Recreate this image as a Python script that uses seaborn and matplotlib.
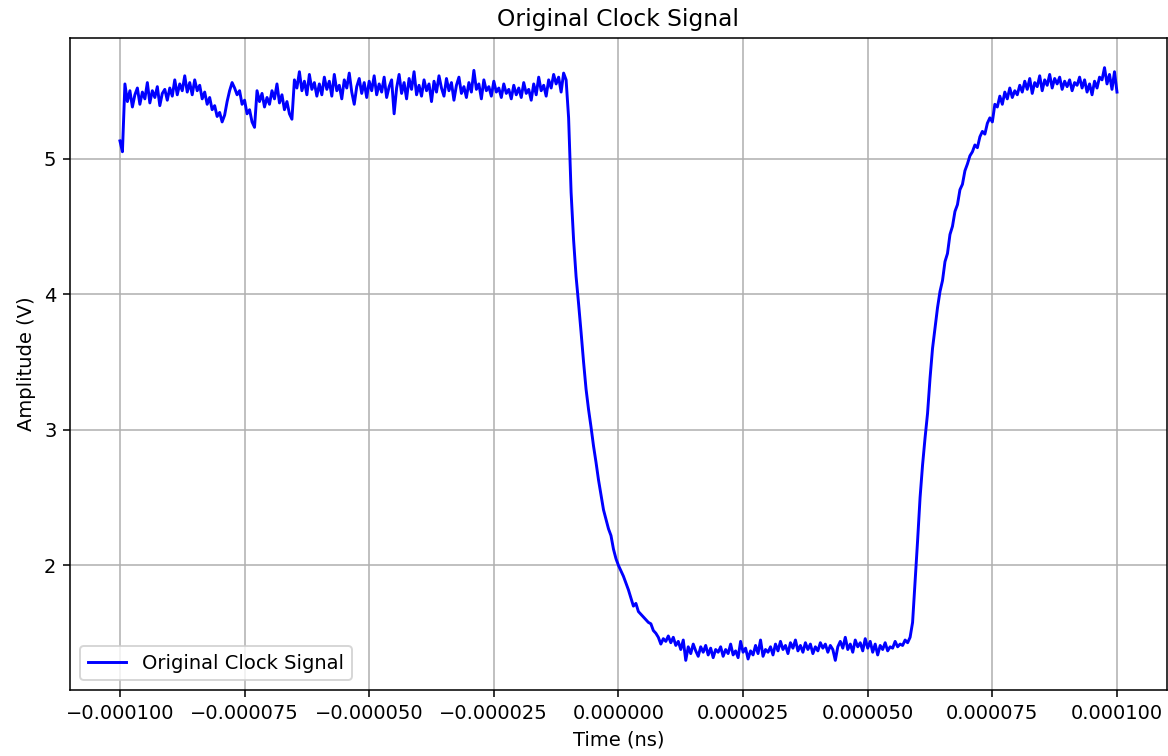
import numpy as np
import pandas as pd
import matplotlib
matplotlib.use("Agg")
import matplotlib.pyplot as plt
import seaborn as sns

# Sampling grid: -100 us .. +100 us, 0.5 us step (401 samples)
t_start = -1e-4
t_end = 1e-4
n_samples = 401

amplitude = [
    # -100 .. -90.5
    5.13, 5.05, 5.55, 5.42, 5.50, 5.38, 5.47, 5.52, 5.40, 5.49, 5.44, 5.56, 5.41, 5.50, 5.45, 5.53, 5.39, 5.48, 5.51, 5.43,
    # -90 .. -80.5
    5.52, 5.46, 5.58, 5.47, 5.55, 5.50, 5.61, 5.49, 5.56, 5.47, 5.58, 5.50, 5.54, 5.44, 5.49, 5.40, 5.45, 5.36, 5.39, 5.31,
    # -80 .. -70.5
    5.34, 5.27, 5.32, 5.42, 5.50, 5.56, 5.52, 5.47, 5.50, 5.40, 5.43, 5.33, 5.36, 5.27, 5.23, 5.50, 5.42, 5.48, 5.38, 5.45,
    # -70 .. -60.5
    5.40, 5.50, 5.44, 5.55, 5.41, 5.47, 5.36, 5.42, 5.33, 5.29, 5.58, 5.52, 5.64, 5.50, 5.57, 5.47, 5.62, 5.51, 5.56, 5.46,
    # -60 .. -50.5
    5.55, 5.47, 5.60, 5.51, 5.57, 5.46, 5.62, 5.50, 5.54, 5.44, 5.58, 5.52, 5.63, 5.49, 5.40, 5.53, 5.59, 5.48, 5.56, 5.45,
    # -50 .. -40.5
    5.57, 5.50, 5.61, 5.47, 5.55, 5.49, 5.60, 5.45, 5.53, 5.58, 5.33, 5.52, 5.62, 5.48, 5.56, 5.44, 5.59, 5.51, 5.64, 5.47,
    # -40 .. -30.5
    5.54, 5.46, 5.58, 5.50, 5.55, 5.42, 5.57, 5.49, 5.61, 5.52, 5.46, 5.59, 5.50, 5.56, 5.43, 5.54, 5.60, 5.48, 5.53, 5.45,
    # -30 .. -20.5
    5.56, 5.49, 5.65, 5.51, 5.55, 5.44, 5.58, 5.50, 5.53, 5.46, 5.57, 5.49, 5.52, 5.45, 5.55, 5.48, 5.51, 5.44, 5.54, 5.47,
    # -20 .. -10.5
    5.52, 5.45, 5.56, 5.48, 5.51, 5.43, 5.55, 5.47, 5.60, 5.50, 5.54, 5.46, 5.58, 5.52, 5.62, 5.55, 5.60, 5.49, 5.63, 5.58,
    # -10 .. -0.5
    5.30, 4.75, 4.40, 4.13, 3.93, 3.72, 3.50, 3.30, 3.15, 3.02, 2.88, 2.76, 2.63, 2.52, 2.41, 2.34, 2.27, 2.22, 2.12, 2.05,
    # 0 .. 9.5
    2.00, 1.96, 1.92, 1.87, 1.82, 1.76, 1.70, 1.72, 1.66, 1.64, 1.62, 1.60, 1.58, 1.57, 1.52, 1.50, 1.47, 1.42, 1.46, 1.44,
    # 10 .. 19.5
    1.48, 1.43, 1.47, 1.41, 1.44, 1.38, 1.45, 1.30, 1.40, 1.35, 1.42, 1.37, 1.33, 1.40, 1.36, 1.41, 1.34, 1.39, 1.32, 1.38,
    # 20 .. 29.5
    1.36, 1.40, 1.33, 1.38, 1.35, 1.42, 1.34, 1.37, 1.32, 1.44, 1.36, 1.39, 1.31, 1.37, 1.34, 1.41, 1.35, 1.45, 1.33, 1.38,
    # 30 .. 39.5
    1.36, 1.40, 1.34, 1.42, 1.37, 1.44, 1.38, 1.41, 1.35, 1.43, 1.39, 1.45, 1.37, 1.41, 1.36, 1.43, 1.38, 1.42, 1.35, 1.40,
    # 40 .. 49.5
    1.37, 1.43, 1.39, 1.42, 1.36, 1.41, 1.38, 1.30, 1.40, 1.44, 1.39, 1.47, 1.38, 1.42, 1.36, 1.45, 1.40, 1.43, 1.37, 1.46,
    # 50 .. 59.5
    1.39, 1.44, 1.36, 1.42, 1.34, 1.41, 1.38, 1.43, 1.37, 1.40, 1.39, 1.44, 1.40, 1.42, 1.41, 1.45, 1.43, 1.47, 1.58, 1.88,
    # 60 .. 69.5
    2.18, 2.50, 2.74, 2.94, 3.12, 3.38, 3.60, 3.75, 3.90, 4.02, 4.10, 4.24, 4.30, 4.44, 4.50, 4.61, 4.66, 4.77, 4.81, 4.91,
    # 70 .. 79.5
    4.96, 5.02, 5.05, 5.10, 5.08, 5.16, 5.20, 5.18, 5.26, 5.30, 5.27, 5.40, 5.38, 5.46, 5.40, 5.49, 5.44, 5.52, 5.45, 5.50,
    # 80 .. 89.5
    5.47, 5.54, 5.49, 5.57, 5.51, 5.59, 5.48, 5.56, 5.53, 5.61, 5.50, 5.58, 5.54, 5.62, 5.52, 5.59, 5.55, 5.60, 5.51, 5.57,
    # 90 .. 99.5
    5.53, 5.58, 5.50, 5.56, 5.54, 5.60, 5.52, 5.58, 5.49, 5.55, 5.47, 5.57, 5.52, 5.60, 5.58, 5.67, 5.55, 5.62, 5.51, 5.64,
    # 100
    5.49,
]

time = np.linspace(t_start, t_end, n_samples)
df = pd.DataFrame({"time": time, "amplitude": amplitude})

DPI = 140
fig = plt.figure(figsize=(1168 / DPI, 756 / DPI), dpi=DPI)
ax = fig.add_axes([0.06, 0.0873, 0.939, 0.8624])

sns.lineplot(data=df, x="time", y="amplitude", ax=ax, color="blue",
             linewidth=1.5, label="Original Clock Signal")

ax.set_title("Original Clock Signal", fontsize=12)
ax.set_xlabel("Time (ns)", fontsize=10)
ax.set_ylabel("Amplitude (V)", fontsize=10)
ax.tick_params(labelsize=10)
ax.grid(True, color="#b0b0b0", linewidth=0.8)
ax.legend(loc="lower left", fontsize=10)

fig.savefig("out.png", dpi=DPI)
